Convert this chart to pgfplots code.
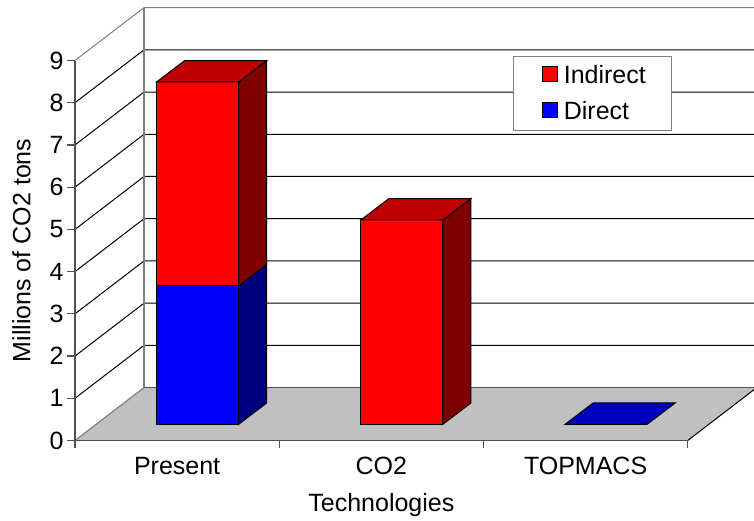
\documentclass[border=0pt]{standalone}
\usepackage{fontspec}
\setmainfont{Liberation Sans}
\usepackage{pgfplots}
\pgfplotsset{compat=1.18}

\definecolor{redside}{HTML}{7F0000}
\definecolor{redtop}{HTML}{BF0000}
\definecolor{blueside}{HTML}{00007F}
\definecolor{bluetop}{HTML}{0000BF}
\definecolor{floorgray}{HTML}{C0C0C0}
\definecolor{wallgray}{HTML}{808080}
\definecolor{axisgray}{HTML}{505050}

% Oblique projection, in data units: wall depth, bar depth, bar set-in, bar width
\newcommand\wallx{0.338}
\newcommand\wally{1.253}
\newcommand\edgex{3.325}
\newcommand\barx{0.137}
\newcommand\bary{0.505}
\newcommand\barbase{0.384}
\newcommand\barw{0.4016}

% One gridline: along the side wall, then along the back wall
\newcommand\gridline[2]{%
  \pgfmathsetmacro\gb{#1+\wally}%
  \addplot[#2, line width=1pt, forget plot] coordinates {(0,#1) (\wallx,\gb) (\edgex,\gb)};%
}

% Front and side faces of one stacked segment (#1 left edge, #2 low, #3 high)
\newcommand\segment[5]{%
  \pgfmathsetmacro\xl{#1}%
  \pgfmathsetmacro\xr{#1+\barw}%
  \pgfmathsetmacro\xb{\xr+\barx}%
  \pgfmathsetmacro\yl{#2+\barbase}%
  \pgfmathsetmacro\yh{#3+\barbase}%
  \pgfmathsetmacro\ylb{\yl+\bary}%
  \pgfmathsetmacro\yhb{\yh+\bary}%
  \addplot[draw=black, line width=1pt, fill=#5, forget plot] coordinates
    {(\xr,\yl) (\xb,\ylb) (\xb,\yhb) (\xr,\yh)} -- cycle;%
  \addplot[draw=black, line width=1pt, fill=#4, forget plot] coordinates
    {(\xl,\yl) (\xr,\yl) (\xr,\yh) (\xl,\yh)} -- cycle;%
}
% Top face of a stack (#1 left edge, #2 height, #3 colour)
\newcommand\lid[3]{%
  \pgfmathsetmacro\xl{#1}%
  \pgfmathsetmacro\xr{#1+\barw}%
  \pgfmathsetmacro\xlb{\xl+\barx}%
  \pgfmathsetmacro\xrb{\xr+\barx}%
  \pgfmathsetmacro\yf{#2+\barbase}%
  \pgfmathsetmacro\yb{\yf+\bary}%
  \addplot[draw=black, line width=1pt, fill=#3, forget plot] coordinates
    {(\xl,\yf) (\xr,\yf) (\xrb,\yb) (\xlb,\yb)} -- cycle;%
}

\begin{document}
\begin{tikzpicture}[x=1pt,y=1pt]
\useasboundingbox (0,0) rectangle (754,521);
\begin{axis}[
  at={(75pt,80.5pt)}, anchor=south west,
  scale only axis, width=612.7pt, height=380pt,
  xmin=0, xmax=3, ymin=0, ymax=9,
  clip=false, axis on top,
  axis x line=bottom, axis y line=left,
  axis line style={-, draw=axisgray, line width=1.5pt},
  tick style={draw=axisgray, line width=1.2pt},
  tick align=outside,
  major tick length=7.5pt, minor tick length=7.5pt,
  ytick={0,1,...,9},
  xtick={0.5,1.5,2.5}, xticklabels={Present,CO2,TOPMACS},
  minor xtick={0,1,2,3},
  x tick style={draw=none},
  minor x tick style={draw=axisgray, line width=1.2pt},
  /pgf/number format/assume math mode=true,
  every tick label/.append style={font=\fontsize{25}{29}\selectfont},
  yticklabel style={xshift=-0.5pt},
  xticklabel style={yshift=-6pt},
  label style={font=\fontsize{25}{29}\selectfont},
  xlabel={Technologies},
  ylabel={Millions of CO2 tons},
  xlabel style={at={(axis description cs:0.5,0)}, anchor=center, yshift=-65pt},
  ylabel style={at={(axis description cs:0,0.5)}, anchor=center, yshift=53.5pt},
  legend image code/.code={%
    \path[draw=none, fill=none] (-5pt,0pt) -- (19.5pt,0pt);
    \draw[#1] (0pt,-6.45pt) rectangle (15.5pt,9.05pt);
  },
  legend style={
    at={(0.7154,1.0126)}, anchor=north west,
    draw=wallgray, line width=1pt, fill=white,
    font=\fontsize{25}{29}\selectfont,
    inner xsep=23.5pt, inner ysep=7.2pt,
    row sep=12.3pt,
  },
  legend cell align=left,
]
  % Walls: gridlines, then the floor and wall edges
  \gridline{1}{black}
  \gridline{2}{black}
  \gridline{3}{black}
  \gridline{4}{black}
  \gridline{5}{black}
  \gridline{6}{black}
  \gridline{7}{black}
  \gridline{8}{black}
  \gridline{9}{wallgray}
  \addplot[draw=wallgray, line width=1.2pt, forget plot] coordinates {(\wallx,1.253) (\wallx,10.253)};
  \addplot[draw=none, fill=floorgray, forget plot] coordinates
    {(0,0) (\wallx,1.253) (\edgex,1.253) (\edgex,1.205) (3,0)} -- cycle;
  \addplot[draw=axisgray, line width=1.2pt, forget plot] coordinates {(\wallx,1.253) (\edgex,1.253)};
  \addplot[draw=wallgray, line width=1.2pt, forget plot] coordinates {(0,0) (\wallx,1.253)};
  \addplot[draw=black, line width=1pt, forget plot] coordinates {(3,0) (\edgex,1.205)};

  % Present: Direct 3.28, Indirect 4.83
  \segment{0.4}{0}{3.28}{blue}{blueside}
  \segment{0.4}{3.28}{8.11}{red}{redside}
  \lid{0.4}{8.11}{redtop}
  % CO2: Indirect 4.84
  \segment{1.4}{0}{4.84}{red}{redside}
  \lid{1.4}{4.84}{redtop}
  % TOPMACS: nothing above the floor
  \lid{2.4}{0}{bluetop}

  \addlegendimage{draw=black, fill=red}
  \addlegendentry{Indirect}
  \addlegendimage{draw=black, fill=blue}
  \addlegendentry{Direct}
\end{axis}
\end{tikzpicture}
\end{document}
